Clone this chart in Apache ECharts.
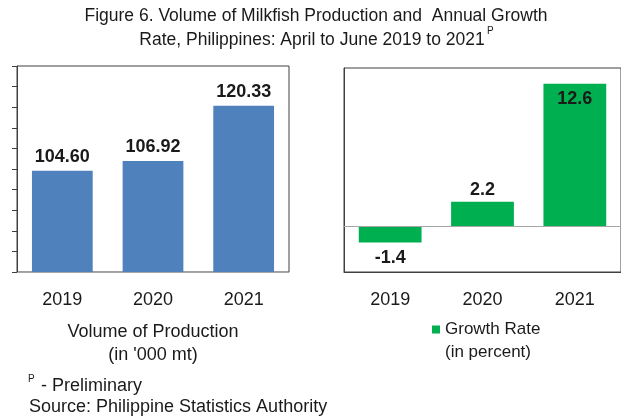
<!DOCTYPE html>
<html>
<head>
<meta charset="utf-8">
<script src="https://cdn.jsdelivr.net/npm/echarts@6/dist/echarts.min.js"></script>
<style>
  html, body { margin: 0; padding: 0; background: #fff; }
  #chart { width: 621px; height: 418px; }
</style>
</head>
<body>
<div id="chart"></div>
<script>
// data
const years = ["2019", "2020", "2021"];
const production = [104.60, 106.92, 120.33];   // '000 mt
const growthRate = [-1.4, 2.2, 12.6];          // percent

const FONT = "Liberation Sans, Arial, sans-serif";
const TEXT = "#1a1a1a";
const FRAME = "#404040";

const chart = echarts.init(document.getElementById("chart"));

// label placement for growth bars: below when negative, inside when tall
const growthData = growthRate.map((v) => ({
  value: v,
  label: {
    position: v < 0 ? "bottom" : v > 10 ? "insideTop" : "top",
    distance: v < 0 ? 6 : v > 10 ? 6 : 3,
  },
}));

chart.setOption({
  animation: false,
  textStyle: { fontFamily: FONT, color: TEXT },
  grid: [
    { left: 17, top: 66, width: 272, height: 206, show: true, borderColor: FRAME, borderWidth: 1 },
    { left: 344, top: 68, width: 279, height: 204, show: true, borderColor: FRAME, borderWidth: 1 },
  ],
  legend: {
    data: ["Growth Rate"],
    left: 432,
    top: 321,
    padding: 0,
    icon: "rect",
    itemWidth: 8,
    itemHeight: 8,
    itemGap: 5,
    textStyle: { fontSize: 17, color: TEXT, fontFamily: FONT },
  },
  xAxis: [
    {
      gridIndex: 0,
      type: "category",
      data: years,
      axisLine: { lineStyle: { color: "#a6a6a6" } },
      axisTick: { length: 5, lineStyle: { color: FRAME } },
      axisLabel: { fontSize: 18, color: TEXT, margin: 19 },
      name: "Volume of Production\n(in '000 mt)",
      nameLocation: "middle",
      nameGap: 49,
      nameTextStyle: { fontSize: 18, lineHeight: 23, color: TEXT },
    },
    {
      gridIndex: 1,
      type: "category",
      data: years,
      axisLine: { onZero: false, lineStyle: { color: FRAME } },
      axisTick: { show: false },
      axisLabel: { fontSize: 18, color: TEXT, margin: 19 },
    },
  ],
  yAxis: [
    {
      gridIndex: 0,
      type: "value",
      min: 80,
      max: 130,
      interval: 5,
      axisLine: { show: true, lineStyle: { color: FRAME } },
      axisTick: { show: true, length: 5, lineStyle: { color: FRAME } },
      axisLabel: { show: false },
      splitLine: { show: false },
    },
    {
      gridIndex: 1,
      type: "value",
      min: -4,
      max: 14,
      interval: 2,
      axisLine: { show: true, lineStyle: { color: FRAME } },
      axisTick: { show: false },
      axisLabel: { show: false },
      splitLine: { show: false },
    },
  ],
  series: [
    {
      name: "Volume of Production",
      type: "bar",
      xAxisIndex: 0,
      yAxisIndex: 0,
      data: production,
      barCategoryGap: "33%",
      itemStyle: { color: "#4f81bd" },
      label: {
        show: true,
        position: "top",
        distance: 5,
        fontSize: 18,
        fontWeight: "bold",
        color: TEXT,
        formatter: (p) => p.value.toFixed(2),
      },
    },
    {
      name: "Growth Rate",
      type: "bar",
      xAxisIndex: 1,
      yAxisIndex: 1,
      data: growthData,
      barCategoryGap: "32%",
      itemStyle: { color: "#00b050" },
      label: {
        show: true,
        fontSize: 18,
        fontWeight: "bold",
        color: TEXT,
        formatter: (p) => p.value.toFixed(1),
      },
      markLine: {
        silent: true,
        symbol: "none",
        label: { show: false },
        lineStyle: { color: "#a6a6a6", type: "solid", width: 1 },
        data: [{ yAxis: 0 }],
      },
    },
  ],
  graphic: [
    {
      type: "text",
      style: {
        text: "Figure 6. Volume of Milkfish Production and  Annual Growth",
        x: 316, y: 16, textAlign: "center", textVerticalAlign: "middle",
        fontSize: 17.5, fontFamily: FONT, fill: TEXT,
      },
    },
    {
      type: "text",
      style: {
        text: "Rate, Philippines: April to June 2019 to 2021",
        x: 312, y: 40, textAlign: "center", textVerticalAlign: "middle",
        fontSize: 17.5, fontFamily: FONT, fill: TEXT,
      },
    },
    {
      type: "text",
      style: {
        text: "P", x: 487, y: 31, textAlign: "left", textVerticalAlign: "middle",
        fontSize: 10, fontFamily: FONT, fill: TEXT,
      },
    },
    {
      type: "text",
      style: {
        text: "(in percent)", x: 445, y: 352, textAlign: "left", textVerticalAlign: "middle",
        fontSize: 17, fontFamily: FONT, fill: TEXT,
      },
    },
    {
      type: "text",
      style: {
        text: "P", x: 28, y: 379, textAlign: "left", textVerticalAlign: "middle",
        fontSize: 10, fontFamily: FONT, fill: TEXT,
      },
    },
    {
      type: "text",
      style: {
        text: "- Preliminary", x: 41, y: 386, textAlign: "left", textVerticalAlign: "middle",
        fontSize: 18, fontFamily: FONT, fill: TEXT,
      },
    },
    {
      type: "text",
      style: {
        text: "Source: Philippine Statistics Authority", x: 29, y: 407, textAlign: "left", textVerticalAlign: "middle",
        fontSize: 18, fontFamily: FONT, fill: TEXT,
      },
    },
  ],
});
</script>
</body>
</html>
